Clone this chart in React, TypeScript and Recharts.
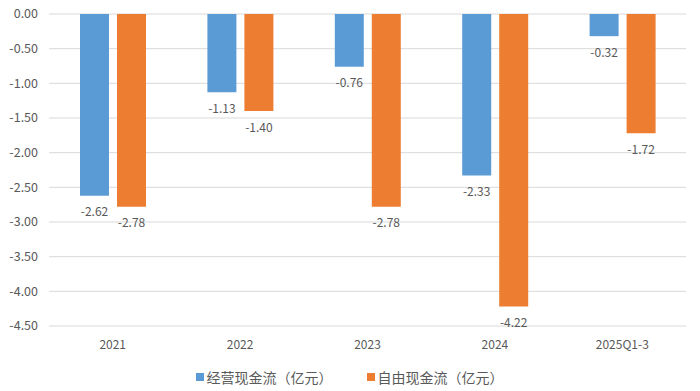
import { BarChart, Bar, XAxis, YAxis, CartesianGrid, Legend, LabelList } from "recharts";

const categories = ["2021", "2022", "2023", "2024", "2025Q1-3"];
const operatingCash = [-2.62, -1.13, -0.76, -2.33, -0.32];
const freeCash = [-2.78, -1.4, -2.78, -4.22, -1.72];
const yTicks = [0, -0.5, -1, -1.5, -2, -2.5, -3, -3.5, -4, -4.5];

const series = [
  { key: "op", name: "经营现金流（亿元）", color: "#5B9BD5" },
  { key: "free", name: "自由现金流（亿元）", color: "#ED7D31" },
];

const data = categories.map((c, i) => ({
  name: c,
  op: operatingCash[i],
  free: freeCash[i],
}));

const FONT = '"Noto Sans CJK SC", "Noto Sans", sans-serif';
const TEXT = "#595959";

function ValueLabel(props: any) {
  const { x, y, width, height, value } = props;
  const bottom = Math.max(Number(y), Number(y) + Number(height));
  return (
    <text
      x={Number(x) + Number(width) / 2}
      y={bottom + 15}
      textAnchor="middle"
      dominantBaseline="central"
      fontSize={12}
      fontFamily={FONT}
      fill={TEXT}
    >
      {Number(value).toFixed(2)}
    </text>
  );
}

function LegendBox() {
  return (
    <div
      style={{
        display: "flex",
        justifyContent: "center",
        alignItems: "center",
        height: 20,
        gap: 34,
        fontFamily: FONT,
        fontSize: 14,
        color: TEXT,
        paddingLeft: 12,
      }}
    >
      {series.map((s) => (
        <div key={s.key} style={{ display: "flex", alignItems: "center" }}>
          <span style={{ width: 8, height: 8, background: s.color, marginRight: 3 }} />
          <span>{s.name}</span>
        </div>
      ))}
    </div>
  );
}

export default function App() {
  return (
    <div style={{ position: "fixed", left: 0, top: 0, background: "#fff" }}>
      <BarChart
        width={700}
        height={391}
        data={data}
        barGap={8}
        margin={{ top: 14, right: 14, left: 1, bottom: 4 }}
      >
        <CartesianGrid vertical={false} stroke="#d9d9d9" />
        <XAxis
          dataKey="name"
          axisLine={false}
          tickLine={false}
          tickSize={0}
          tickMargin={14}
          height={41}
          tick={{ fontSize: 12, fill: TEXT, fontFamily: FONT }}
        />
        <YAxis
          domain={[-4.5, 0]}
          ticks={yTicks}
          axisLine={false}
          tickLine={false}
          tickSize={0}
          tickMargin={11}
          width={48}
          tickFormatter={(v: number) => v.toFixed(2)}
          tick={{ fontSize: 12.5, fill: TEXT, fontFamily: FONT }}
        />
        <Legend verticalAlign="bottom" content={<LegendBox />} />
        {series.map((s) => (
          <Bar
            key={s.key}
            dataKey={s.key}
            name={s.name}
            fill={s.color}
            barSize={29}
            isAnimationActive={false}
          >
            <LabelList dataKey={s.key} content={<ValueLabel />} />
          </Bar>
        ))}
      </BarChart>
    </div>
  );
}
